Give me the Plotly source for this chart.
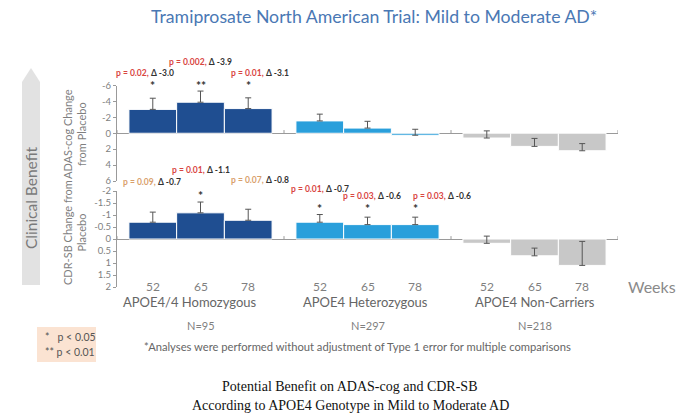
import plotly.graph_objects as go

# ---------------- data ----------------
weeks = ["52", "65", "78"]
groups = ["APOE4/4 Homozygous", "APOE4 Heterozygous", "APOE4 Non-Carriers"]
group_n = ["N=95", "N=297", "N=218"]
group_colors = ["#1f4e91", "#2a9fdb", "#c8c8c8"]

# ADAS-cog change from placebo (negative = benefit), per group x week
adas_values = [[-3.0, -3.9, -3.1], [-1.55, -0.65, 0.25], [0.6, 1.65, 2.2]]
adas_err = [[1.4, 1.4, 1.35], [0.85, 0.85, 0.75], [0.9, 1.0, 0.9]]
# CDR-SB change from placebo
cdr_values = [[-0.70, -1.09, -0.78], [-0.70, -0.60, -0.60], [0.18, 0.70, 1.10]]
cdr_err = [[0.42, 0.45, 0.46], [0.32, 0.31, 0.31], [0.30, 0.32, 1.00]]

adas_ticks = [-6, -4, -2, 0, 2, 4, 6]
cdr_ticks = [-2, -1.5, -1, -0.5, 0, 0.5, 1, 1.5, 2]

# significance labels: (group, week index, p text, delta text, stars, significant?)
adas_labels = [
    (0, 0, "p = 0.02,", "Δ -3.0", "*", True),
    (0, 1, "p = 0.002,", "Δ -3.9", "**", True),
    (0, 2, "p = 0.01,", "Δ -3.1", "*", True),
]
cdr_labels = [
    (0, 0, "p = 0.09,", "Δ -0.7", "", False),
    (0, 1, "p = 0.01,", "Δ -1.1", "*", True),
    (0, 2, "p = 0.07,", "Δ -0.8", "", False),
    (1, 0, "p = 0.01,", "Δ -0.7", "*", True),
    (1, 1, "p = 0.03,", "Δ -0.6", "*", True),
    (1, 2, "p = 0.03,", "Δ -0.6", "*", True),
]

# ---------------- layout helpers ----------------
W, H = 700, 416
FONT = "Lato"
GREY = "#7f7f7f"

def px(x):
    return x / W

def py(y):
    return 1 - y / H

GROUP_STEP = 3.5
def bar_x(g, j):
    return g * GROUP_STEP + 0.75 + j

fig = go.Figure()

for g in range(3):
    xs = [bar_x(g, j) for j in range(3)]
    fig.add_trace(go.Bar(
        x=xs, y=adas_values[g], width=1.0, xaxis="x", yaxis="y",
        marker=dict(color=group_colors[g], line=dict(color="white", width=1)),
        error_y=dict(type="data", symmetric=False, array=[0, 0, 0], arrayminus=adas_err[g],
                     color="#555555", thickness=1, width=3),
        showlegend=False, hoverinfo="skip"))
    fig.add_trace(go.Bar(
        x=xs, y=cdr_values[g], width=1.0, xaxis="x2", yaxis="y2",
        marker=dict(color=group_colors[g], line=dict(color="white", width=1)),
        error_y=dict(type="data", symmetric=False, array=[0, 0, 0], arrayminus=cdr_err[g],
                     color="#555555", thickness=1, width=3),
        showlegend=False, hoverinfo="skip"))

x_dom = [px(117), px(618)]
x_rng = [0, 3 * GROUP_STEP]
axis_common = dict(showgrid=False, zeroline=False, showticklabels=False, showline=False,
                   range=x_rng, domain=x_dom, fixedrange=True)
y_common = dict(showgrid=False, zeroline=True, zerolinecolor="#9a9a9a", zerolinewidth=1,
                showline=True, linecolor="#9a9a9a", linewidth=1, ticks="outside",
                ticklen=3, tickcolor="#9a9a9a", tickfont=dict(family=FONT, size=9.5, color=GREY),
                fixedrange=True, automargin=False)

fig.update_layout(
    width=W, height=H, margin=dict(l=0, r=0, t=0, b=0, autoexpand=False),
    paper_bgcolor="white", plot_bgcolor="rgba(0,0,0,0)",
    barmode="overlay",
    xaxis=dict(anchor="y", **axis_common),
    xaxis2=dict(anchor="y2", **axis_common),
    yaxis=dict(anchor="x", domain=[py(181), py(85.5)], range=[6, -6],
               tickvals=adas_ticks, ticktext=[str(t) for t in adas_ticks], **y_common),
    yaxis2=dict(anchor="x2", domain=[py(287), py(191)], range=[2, -2],
                tickvals=cdr_ticks, ticktext=[str(t) for t in cdr_ticks], **y_common),
)

# small group-boundary ticks on zero lines
for k in range(4):
    fig.add_shape(type="line", xref="x", yref="y", x0=k * GROUP_STEP, x1=k * GROUP_STEP,
                  y0=0, y1=-0.4, line=dict(color="#9a9a9a", width=1))
    fig.add_shape(type="line", xref="x2", yref="y2", x0=k * GROUP_STEP, x1=k * GROUP_STEP,
                  y0=0, y1=-0.12, line=dict(color="#9a9a9a", width=1))

anns = []

def ann(x, y, text, size, color, family=FONT, xref="paper", xanchor="center", xshift=0, angle=0):
    anns.append(dict(x=x, y=y, xref=xref, yref="paper", text=text, showarrow=False,
                     xanchor=xanchor, yanchor="middle", xshift=xshift, textangle=angle,
                     font=dict(family=family, size=size, color=color)))

def label_text(p, d, sig):
    pc = "#d9453f" if sig else "#d9a06b"
    return f"<span style='color:{pc}'><b>{p}</b></span> <b>{d}</b>"

# ADAS labels
adas_label_y = [73, 62.5, 73]
adas_label_dx = [-8, 0, 12]
for i, (g, j, p, d, s, sig) in enumerate(adas_labels):
    ann(bar_x(g, j), py(adas_label_y[i]), label_text(p, d, sig), 8.5, "#333333",
        xref="x", xshift=adas_label_dx[i])
    if s:
        ann(bar_x(g, j), py(86), f"<b>{s}</b>", 12, "#333333", xref="x")

cdr_label_y = [182, 170, 180, 189, 196, 196]
cdr_label_dx = [-1, 0, 12, 0, 4, 27]
cdr_star_y = [195, 195, 195, 208, 208, 208]
for i, (g, j, p, d, s, sig) in enumerate(cdr_labels):
    ann(bar_x(g, j), py(cdr_label_y[i]), label_text(p, d, sig), 8.5, "#333333",
        xref="x2", xshift=cdr_label_dx[i])
    if s:
        ann(bar_x(g, j), py(cdr_star_y[i]), f"<b>{s}</b>", 12, "#333333", xref="x2")

# week tick labels, group names, N
group_dx = [-11, -2, 0]
for g in range(3):
    for j in range(3):
        ann(bar_x(g, j), py(286), weeks[j], 12, GREY, xref="x2")
    ann(bar_x(g, 1), py(302), groups[g], 13, "#666666", xref="x2", xshift=group_dx[g])
    ann(bar_x(g, 1), py(325), group_n[g], 11, GREY, xref="x2")

ann(px(652), py(286), "Weeks", 16, "#8a8a8a")

# title
ann(px(374), py(17), "Tramiprosate North American Trial: Mild to Moderate AD*", 17.7, "#4a78b4")

# y-axis titles
ann(px(74), py(134), "ADAS-cog Change<br>from Placebo", 11, GREY, angle=-90)
ann(px(74), py(233), "CDR-SB Change from<br>Placebo", 11, GREY, angle=-90)

# clinical benefit arrow
fig.add_shape(type="path", xref="paper", yref="paper", layer="below",
              path=f"M {px(22)} {py(285)} L {px(22)} {py(82)} L {px(31)} {py(68)} L {px(40)} {py(82)} L {px(40)} {py(285)} Z",
              fillcolor="#e2e2e2", line=dict(width=0))
ann(px(31), py(197), "Clinical Benefit", 15.5, "#7a7a7a", angle=-90)

# significance legend box
fig.add_shape(type="rect", xref="paper", yref="paper", x0=px(37), x1=px(96), y0=py(362), y1=py(327),
              fillcolor="#fbe3d2", line=dict(width=0), layer="below")
ann(px(43), py(337), "*&nbsp;&nbsp; p &lt; 0.05", 10.5, "#555555", xanchor="left")
ann(px(43), py(352), "** p &lt; 0.01", 10.5, "#555555", xanchor="left")

# footnote
ann(px(357), py(346), "*Analyses were performed without adjustment of Type 1 error for multiple comparisons",
    11.2, "#666666")

# caption
ann(px(350), py(386), "Potential Benefit on ADAS-cog and CDR-SB", 14, "#111111", family="Liberation Serif")
ann(px(350), py(405), "According to APOE4 Genotype in Mild to Moderate AD", 14, "#111111",
    family="Liberation Serif")

fig.update_layout(annotations=anns)
fig.write_html("out.html", config={"displayModeBar": False},
               post_script="document.body.style.margin='0';")
